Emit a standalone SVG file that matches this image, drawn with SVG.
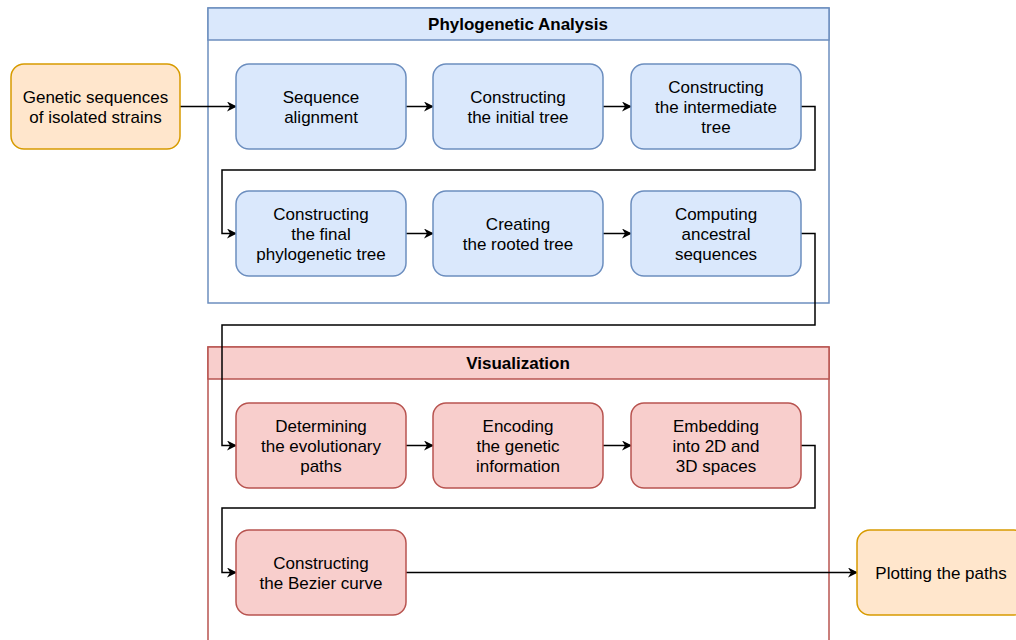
<svg xmlns="http://www.w3.org/2000/svg" width="1016" height="640" viewBox="0 0 1016 640">
<defs>
<style>
text{font-family:"Liberation Sans",Arial,sans-serif;font-size:17px;fill:#000;text-anchor:middle;dominant-baseline:central}
.t{font-weight:bold}
.blue{fill:#dae8fc;stroke:#6c8ebf;stroke-width:1.5}
.red{fill:#f8cecc;stroke:#b85450;stroke-width:1.5}
.org{fill:#ffe6cc;stroke:#d79b00;stroke-width:1.5}
.c{fill:none;stroke:#000;stroke-width:1.5;marker-end:url(#ah)}
</style>
<marker id="ah" viewBox="0 0 10 10" refX="9" refY="5" markerWidth="10" markerHeight="10" markerUnits="userSpaceOnUse" orient="auto">
<path d="M0,0 L10,5 L0,10 L3,5 Z" fill="#000"/>
</marker>
</defs>
<rect width="1016" height="640" fill="#fff"/>
<g id="phylo">
<rect x="208" y="8" width="621" height="295" stroke="#6c8ebf" stroke-width="1.5" fill="#fff"/>
<rect x="208" y="8" width="621" height="32" class="blue"/>
<text x="518" y="24.5" class="t">Phylogenetic Analysis</text>
</g>
<g id="vis">
<rect x="208" y="347" width="621" height="310" stroke="#b85450" stroke-width="1.5" fill="#fff"/>
<rect x="208" y="347" width="621" height="32" class="red"/>
<text x="518" y="363.5" class="t">Visualization</text>
</g>
<g id="connectors">
<path class="c" d="M180,106.5 H236"/>
<path class="c" d="M406,106.5 H433"/>
<path class="c" d="M603,106.5 H631"/>
<path class="c" d="M801,106.5 H815 V170 H222 V233.5 H236"/>
<path class="c" d="M406,233.5 H433"/>
<path class="c" d="M603,233.5 H631"/>
<path class="c" d="M801,233.5 H815 V325 H222 V445.5 H236"/>
<path class="c" d="M406,445.5 H433"/>
<path class="c" d="M603,445.5 H631"/>
<path class="c" d="M801,445.5 H815 V508 H222 V572.5 H236"/>
<path class="c" d="M406,572.5 H857"/>
</g>
<g id="n_source"><rect x="11" y="64" width="169" height="85" rx="13" class="org"/><text x="95.5" y="97">Genetic sequences</text><text x="95.5" y="117">of isolated strains</text></g>
<g id="n_align"><rect x="236" y="64" width="170" height="85" rx="13" class="blue"/><text x="321" y="97">Sequence</text><text x="321" y="117">alignment</text></g>
<g id="n_initial"><rect x="433" y="64" width="170" height="85" rx="13" class="blue"/><text x="518" y="97">Constructing</text><text x="518" y="117">the initial tree</text></g>
<g id="n_inter"><rect x="631" y="64" width="170" height="85" rx="13" class="blue"/><text x="716" y="87">Constructing</text><text x="716" y="107">the intermediate</text><text x="716" y="127">tree</text></g>
<g id="n_final"><rect x="236" y="191" width="170" height="85" rx="13" class="blue"/><text x="321" y="214">Constructing</text><text x="321" y="234">the final</text><text x="321" y="254">phylogenetic tree</text></g>
<g id="n_rooted"><rect x="433" y="191" width="170" height="85" rx="13" class="blue"/><text x="518" y="224">Creating</text><text x="518" y="244">the rooted tree</text></g>
<g id="n_ancestral"><rect x="631" y="191" width="170" height="85" rx="13" class="blue"/><text x="716" y="214">Computing</text><text x="716" y="234">ancestral</text><text x="716" y="254">sequences</text></g>
<g id="n_paths"><rect x="236" y="403" width="170" height="85" rx="13" class="red"/><text x="321" y="426">Determining</text><text x="321" y="446">the evolutionary</text><text x="321" y="466">paths</text></g>
<g id="n_encoding"><rect x="433" y="403" width="170" height="85" rx="13" class="red"/><text x="518" y="426">Encoding</text><text x="518" y="446">the genetic</text><text x="518" y="466">information</text></g>
<g id="n_embed"><rect x="631" y="403" width="170" height="85" rx="13" class="red"/><text x="716" y="426">Embedding</text><text x="716" y="446">into 2D and</text><text x="716" y="466">3D spaces</text></g>
<g id="n_bezier"><rect x="236" y="530" width="170" height="85" rx="13" class="red"/><text x="321" y="563">Constructing</text><text x="321" y="583">the Bezier curve</text></g>
<g id="n_plot"><rect x="857" y="530" width="170" height="85" rx="13" class="org"/><text x="941" y="573">Plotting the paths</text></g>
</svg>
